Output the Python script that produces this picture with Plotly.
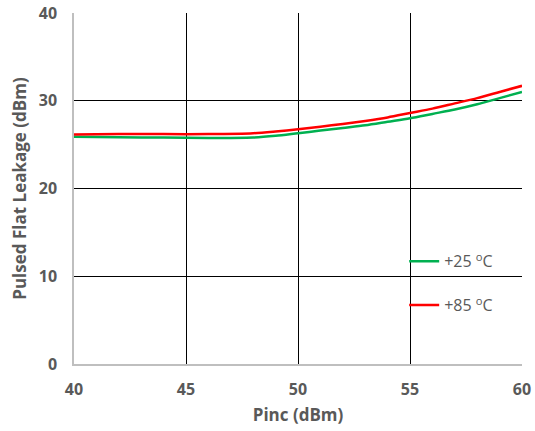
import plotly.graph_objects as go

pinc = [40, 42, 44, 46, 48, 49, 50, 51, 52, 53, 54, 55, 56, 57, 58, 59, 60]
leak_25 = [25.9, 25.85, 25.8, 25.75, 25.8, 26.0, 26.3, 26.6, 26.9, 27.2, 27.6, 28.0, 28.5, 29.0, 29.6, 30.3, 31.0]
leak_85 = [26.15, 26.2, 26.2, 26.2, 26.3, 26.5, 26.75, 27.05, 27.35, 27.7, 28.1, 28.6, 29.1, 29.7, 30.3, 31.0, 31.7]
series_names = ["+25 <sup>o</sup>C", "+85 <sup>o</sup>C"]
series_colors = ["#00B050", "#FF0000"]
x_ticks = [40, 45, 50, 55, 60]
y_ticks = [0, 10, 20, 30, 40]

FONT = "Open Sans"
GREY = "#595959"

fig = go.Figure()
for i, (name, vals, col) in enumerate(zip(series_names, [leak_25, leak_85], series_colors)):
    fig.add_trace(go.Scatter(
        x=pinc, y=vals, mode="lines", name=name,
        line=dict(color=col, width=2.5, shape="spline", smoothing=0.8),
        legendgroup=f"g{i}",
    ))

fig.update_layout(
    width=535, height=431,
    margin=dict(l=74, r=13, t=13, b=67, autoexpand=False),
    paper_bgcolor="white", plot_bgcolor="white",
    font=dict(family=FONT, color=GREY, size=14),
    showlegend=True,
    legend=dict(
        x=0.737, y=0.341, xanchor="left", yanchor="top",
        bgcolor="rgba(0,0,0,0)", traceorder="grouped", tracegroupgap=20,
        font=dict(family=FONT, size=16, color=GREY),
    ),
    xaxis=dict(
        range=[40, 60], tickvals=x_ticks, ticktext=["<b>%d</b>" % v for v in x_ticks],
        showgrid=True, gridcolor="#000000", gridwidth=1.2,
        showline=True, linecolor="#BFBFBF", linewidth=1.5,
        zeroline=False, ticks="", automargin=False, ticklabelstandoff=10,
        tickfont=dict(family=FONT, size=16, color=GREY),
        title=dict(text="<b>Pinc (dBm)</b>", font=dict(family=FONT, size=17, color=GREY), standoff=10),
    ),
    yaxis=dict(
        range=[0, 40], tickvals=y_ticks, ticktext=["<b>%d</b>" % v for v in y_ticks],
        showgrid=True, gridcolor="#000000", gridwidth=1.4,
        showline=True, linecolor="#BFBFBF", linewidth=1.5,
        zeroline=False, ticks="", automargin=False, ticklabelstandoff=12,
        tickfont=dict(family=FONT, size=16, color=GREY),
        title=dict(text="<b>Pulsed Flat Leakage (dBm)</b>", font=dict(family=FONT, size=17, color=GREY), standoff=8),
    ),
)

fig.write_html("out.html", config={"displayModeBar": False},
               post_script="document.body.style.margin='0';document.body.style.padding='0';")
